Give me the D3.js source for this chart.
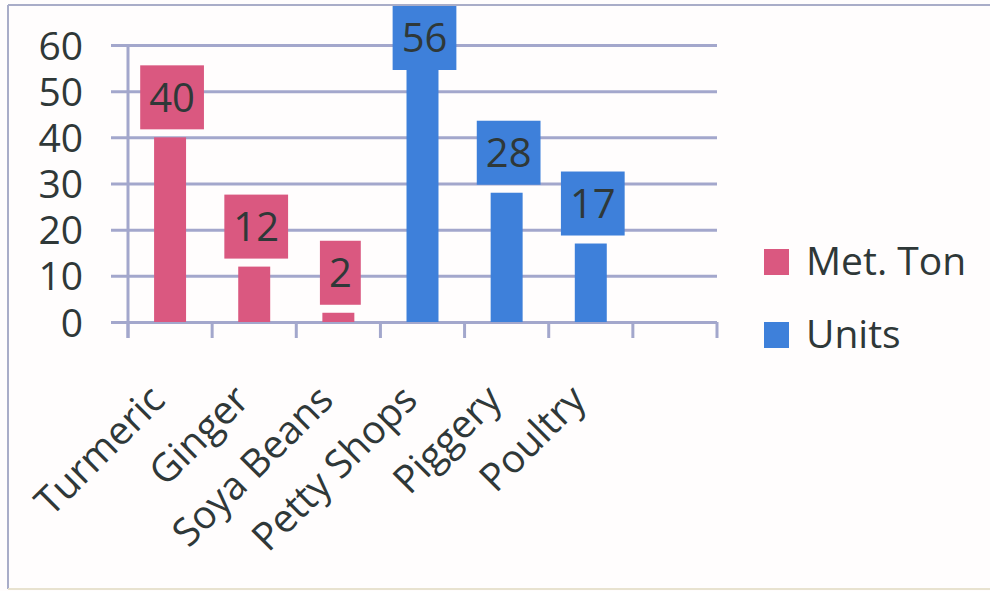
<!DOCTYPE html>
<html>
<head>
<meta charset="utf-8">
<script src="https://cdn.jsdelivr.net/npm/d3@7/dist/d3.min.js"></script>
<style>
  html, body { margin: 0; padding: 0; background: #fffdfd; }
  svg { display: block; }
  text { font-family: "Open Sans", Lato, sans-serif; fill: #2f3838; }
</style>
</head>
<body>
<svg id="chart" width="990" height="591"></svg>
<script>
// Categories (the axis keeps one extra empty slot at the right end)
const categories = ["Turmeric", "Ginger", "Soya Beans", "Petty Shops", "Piggery", "Poultry"];
const slotCount = 7;
// Values and the series each category belongs to
const values = [40, 12, 2, 56, 28, 17];
const seriesOf = ["Met. Ton", "Met. Ton", "Met. Ton", "Units", "Units", "Units"];
const seriesNames = ["Met. Ton", "Units"];
const seriesColors = ["#da5880", "#3e80da"];
const yTicks = [0, 10, 20, 30, 40, 50, 60];

const svg = d3.select("#chart");
const plotLeft = 128, plotRight = 717, plotTop = 45, plotBottom = 322;
const gridColor = "#a3a7cc";

const color = d3.scaleOrdinal().domain(seriesNames).range(seriesColors);
const x = d3.scaleBand().domain(d3.range(slotCount)).range([plotLeft, plotRight])
  .paddingInner(0.62).paddingOuter(0.31);
const y = d3.scaleLinear().domain([0, 60]).range([plotBottom, plotTop]);

// Outer frame
svg.append("line").attr("x1", 8).attr("x2", 8).attr("y1", 5).attr("y2", 589)
  .attr("stroke", "#a9adc8").attr("stroke-width", 2);
svg.append("line").attr("x1", 8).attr("x2", 990).attr("y1", 5).attr("y2", 5)
  .attr("stroke", "#a9adc8").attr("stroke-width", 2);
svg.append("line").attr("x1", 8).attr("x2", 990).attr("y1", 589).attr("y2", 589)
  .attr("stroke", "#e8e2cf").attr("stroke-width", 2);

// Horizontal gridlines with y-axis labels
const yAxis = d3.axisLeft(y).tickValues(yTicks).tickSize(-(plotRight - plotLeft)).tickPadding(45);
const gy = svg.append("g").attr("transform", `translate(${plotLeft},0)`).call(yAxis);
gy.select(".domain").remove();
gy.selectAll(".tick line").attr("stroke", gridColor).attr("stroke-width", 3)
  .attr("x1", -17);
gy.selectAll(".tick text").attr("font-size", 39).attr("dy", "0.36em")
  .style("font-family", "'Open Sans', sans-serif").attr("fill", "#2f3838");

// Vertical axis line
svg.append("line").attr("x1", plotLeft).attr("x2", plotLeft).attr("y1", plotTop).attr("y2", plotBottom + 16)
  .attr("stroke", gridColor).attr("stroke-width", 3);

// Category tick marks at slot boundaries
const step = x.step();
svg.append("g").selectAll("line").data(d3.range(slotCount + 1)).join("line")
  .attr("x1", i => plotLeft + i * step).attr("x2", i => plotLeft + i * step)
  .attr("y1", plotBottom).attr("y2", plotBottom + 16)
  .attr("stroke", gridColor).attr("stroke-width", 3);

// Bars
svg.append("g").selectAll("rect").data(values).join("rect")
  .attr("x", (d, i) => x(i))
  .attr("width", x.bandwidth())
  .attr("y", d => y(d))
  .attr("height", d => y(0) - y(d))
  .attr("fill", (d, i) => color(seriesOf[i]));

// Value labels in filled boxes above the bars
const labels = svg.append("g").selectAll("g").data(values).join("g");
labels.each(function (d, i) {
  const g = d3.select(this);
  const cx = x(i) + x.bandwidth() / 2 + 2;
  const cy = Math.max(y(d) - 40, 38);
  const rect = g.append("rect").attr("fill", color(seriesOf[i]));
  const t = g.append("text").attr("x", cx).attr("y", cy).attr("dy", "0.36em")
    .attr("text-anchor", "middle").attr("font-size", 40).text(d);
  const w = t.node().getComputedTextLength() + 18;
  rect.attr("x", cx - w / 2).attr("y", cy - 32).attr("width", w).attr("height", 64);
});

// Rotated category labels
svg.append("g").selectAll("text").data(categories).join("text")
  .attr("transform", (d, i) => `translate(${x(i) + x.bandwidth() / 2 - 3},${plotBottom + 80}) rotate(-45)`)
  .attr("text-anchor", "end").attr("font-size", 39).text(d => d);

// Legend
const legend = svg.append("g").selectAll("g").data(seriesNames).join("g")
  .attr("transform", (d, i) => `translate(764,${249 + i * 73})`);
legend.append("rect").attr("width", 25).attr("height", 26).attr("fill", d => color(d));
legend.append("text").attr("x", 42).attr("y", 26).attr("font-size", 39).text(d => d);
</script>
</body>
</html>
